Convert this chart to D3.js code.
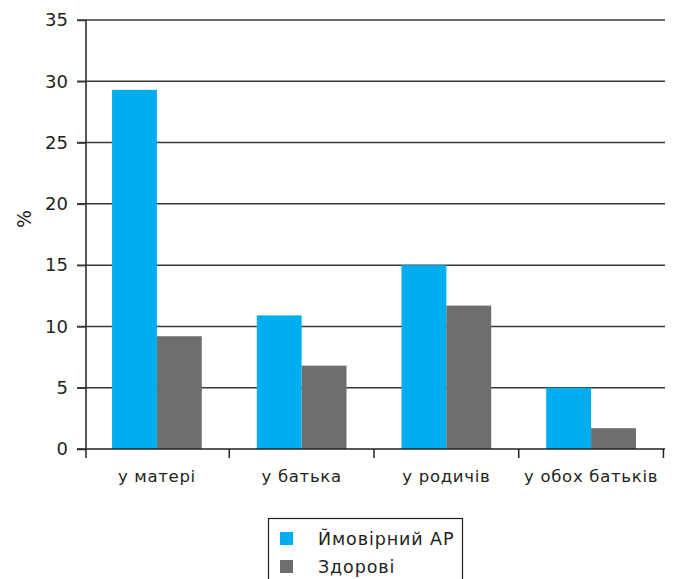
<!DOCTYPE html>
<html><head><meta charset="utf-8">
<script src="https://cdn.jsdelivr.net/npm/d3@7"></script>
<style>body{margin:0;background:#fff}svg{display:block}text{font-family:"DejaVu Sans",sans-serif;fill:#231f20}</style>
</head><body>
<script>
const categories = ["у матері", "у батька", "у родичів", "у обох батьків"];
const seriesNames = ["Ймовірний АР", "Здорові"];
const seriesAR = [29.3, 10.9, 15.0, 5.0];
const seriesHealthy = [9.2, 6.8, 11.7, 1.7];
const yTicks = [0, 5, 10, 15, 20, 25, 30, 35];
const colors = ["#00aeef", "#6d6e70"];

const W = 674, H = 579;
const m = {left: 86, right: 9, top: 20, bottom: 130};
const svg = d3.select("body").append("svg").attr("width", W).attr("height", H);
const x = d3.scaleBand().domain(categories).range([m.left, 662]).paddingInner(0.38).paddingOuter(0.18);
const y = d3.scaleLinear().domain([0, 35]).range([H - m.bottom, m.top]);
const x1 = d3.scaleBand().domain(seriesNames).range([0, x.bandwidth()]);

// gridlines
svg.append("g").selectAll("line").data(yTicks.slice(1)).join("line")
  .attr("x1", m.left - 9).attr("x2", W - m.right)
  .attr("y1", d => y(d)).attr("y2", d => y(d))
  .attr("stroke", "#3a3a3a").attr("stroke-width", 1.5);

const data = categories.map((c, i) => ({c, vals: [seriesAR[i], seriesHealthy[i]]}));
const g = svg.append("g").selectAll("g").data(data).join("g")
  .attr("transform", d => `translate(${x(d.c)},0)`);
g.selectAll("rect").data(d => d.vals.map((v, j) => ({v, s: seriesNames[j], j}))).join("rect")
  .attr("x", d => x1(d.s)).attr("width", x1.bandwidth())
  .attr("y", d => y(d.v)).attr("height", d => y(0) - y(d.v))
  .attr("fill", d => colors[d.j]);

// y axis
const ya = svg.append("g").attr("transform", `translate(${m.left},0)`)
  .call(d3.axisLeft(y).tickValues(yTicks).tickSize(9).tickPadding(9));
ya.select(".domain").attr("stroke", "#231f20").attr("stroke-width", 1.5).attr("d", `M0,${y(35)}V${y(0)}`);
ya.selectAll(".tick line").attr("stroke", "#3a3a3a").attr("stroke-width", 1.5);
ya.selectAll(".tick text").attr("font-size", 18).style("font-family", "'DejaVu Sans', sans-serif").attr("fill", "#231f20");

// x axis
const xa = svg.append("g").attr("transform", `translate(0,${y(0)})`);
xa.append("line").attr("x1", m.left - 9).attr("x2", W - m.right).attr("y1", 0).attr("y2", 0)
  .attr("stroke", "#231f20").attr("stroke-width", 1.5);
const bounds = [m.left].concat(categories.map(c => x(c) + x.bandwidth() + x.step() * x.paddingInner() / 2));
xa.selectAll("line.t").data(bounds).join("line").attr("class", "t")
  .attr("x1", d => d).attr("x2", d => d).attr("y1", 0).attr("y2", 9)
  .attr("stroke", "#231f20").attr("stroke-width", 1.5);
xa.selectAll("text").data(categories).join("text")
  .attr("x", d => x(d) + x.bandwidth() / 2).attr("y", 33)
  .attr("text-anchor", "middle").attr("font-size", 16.5).attr("letter-spacing", 0.7).text(d => d);

svg.append("text").attr("transform", `translate(31,219) rotate(-90)`)
  .attr("text-anchor", "middle").attr("font-size", 19).text("%");

// legend
const lg = svg.append("g");
lg.append("rect").attr("x", 268.5).attr("y", 518.5).attr("width", 194).attr("height", 70)
  .attr("fill", "none").attr("stroke", "#231f20").attr("stroke-width", 1.2);
seriesNames.forEach((s, i) => {
  lg.append("rect").attr("x", 280).attr("y", 532 + i * 28).attr("width", 13).attr("height", 13).attr("fill", colors[i]);
  lg.append("text").attr("x", 318).attr("y", 545 + i * 28).attr("font-size", 17.5).attr("letter-spacing", 0.9).text(s);
});
</script>
</body></html>
